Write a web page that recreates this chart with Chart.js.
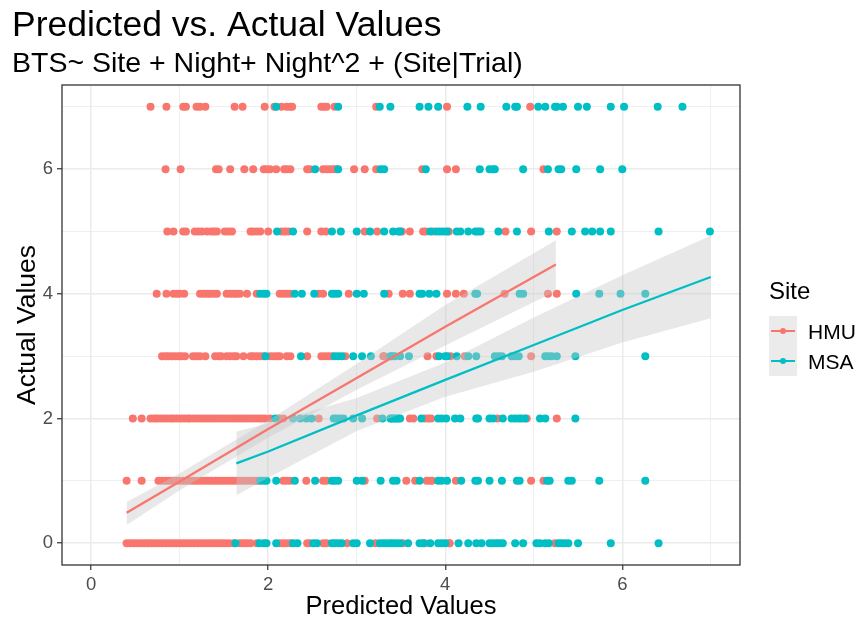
<!DOCTYPE html>
<html>
<head>
<meta charset="utf-8">
<script src="https://cdn.jsdelivr.net/npm/chart.js@4.4.1/dist/chart.umd.min.js"></script>
<style>
  html, body { margin: 0; padding: 0; background: #fff; }
  #wrap { width: 862px; height: 626px; }
</style>
</head>
<body>
<div id="wrap"><canvas id="fitChart" width="862" height="626"></canvas></div>
<script>
// Predicted x values, one array per actual value (row), per site
const hmu0 = [0.40,0.44,0.48,0.52,0.56,0.60,0.64,0.68,0.72,0.76,0.80,0.84,0.88,0.92,0.96,1.00,1.04,1.08,1.12,1.16,1.20,1.24,1.28,1.32,1.36,1.40,1.44,1.48,1.52,1.56,1.61,1.68,1.72,1.76,1.80,1.87,2.13,2.17,2.21,2.25,2.44,2.47,2.62,2.66,2.89,3.21,3.52,3.77,4.04,4.05,5.24];
const hmu1 = [0.40,0.57,0.76,0.80,0.84,0.88,0.92,0.96,1.00,1.04,1.08,1.12,1.16,1.20,1.24,1.28,1.32,1.36,1.40,1.44,1.48,1.52,1.56,1.60,1.64,1.68,1.72,1.76,1.80,1.84,1.87,2.17,2.21,2.25,2.43,2.62,2.66,3.09,3.56,3.66,3.79,3.83,3.85,4.12,4.97,5.11];
const hmu2 = [0.47,0.57,0.67,0.71,0.74,0.78,0.82,0.86,0.90,0.93,0.97,1.01,1.05,1.09,1.12,1.16,1.20,1.24,1.28,1.32,1.36,1.40,1.44,1.48,1.52,1.56,1.60,1.64,1.68,1.72,1.76,1.80,1.84,1.88,1.92,1.96,2.02,2.12,2.17,2.57,3.23,3.60,3.64,3.77,3.81,3.84,4.59,4.92,5.26];
const hmu3 = [0.80,0.84,0.87,0.91,0.95,0.99,1.02,1.06,1.15,1.19,1.23,1.29,1.40,1.44,1.47,1.53,1.57,1.61,1.64,1.72,1.80,1.83,1.87,1.91,1.95,2.02,2.06,2.10,2.13,2.21,2.25,2.44,2.60,2.64,2.68,2.72,2.87,3.30,3.31,3.80,3.90,4.06,4.22,4.97];
const hmu4 = [0.74,0.85,0.93,0.97,1.00,1.05,1.23,1.27,1.31,1.34,1.38,1.42,1.53,1.57,1.61,1.64,1.68,1.76,1.87,2.13,2.17,2.21,2.25,2.57,2.62,2.91,3.36,3.52,3.60,4.02,4.12,4.21,4.67,5.16,5.26];
const hmu5 = [0.86,0.93,1.04,1.07,1.17,1.21,1.25,1.31,1.36,1.39,1.42,1.51,1.55,1.59,1.80,1.83,1.87,1.91,2.00,2.15,2.19,2.23,2.44,2.60,2.65,3.09,3.23,3.51,3.60,3.75,3.78,3.86,4.04,4.68,4.97,5.26];
const hmu6 = [0.84,1.01,1.41,1.44,1.57,1.73,1.83,1.95,1.98,2.02,2.09,2.18,2.21,2.25,2.44,2.47,2.62,2.66,2.70,2.74,2.77,2.97,3.09,3.22,3.74,4.02,4.12,5.11];
const hmu7 = [0.67,0.85,1.04,1.07,1.19,1.23,1.29,1.62,1.71,1.96,2.07,2.15,2.21,2.25,2.27,2.60,2.63,2.66,2.75,3.22,4.02,4.96];

const msa0 = [1.63,1.90,1.95,1.98,2.09,2.28,2.33,2.51,2.55,2.72,2.75,2.79,2.83,2.96,3.00,3.15,3.26,3.30,3.34,3.38,3.41,3.45,3.49,3.58,3.71,3.75,3.83,3.92,3.96,4.00,4.15,4.26,4.35,4.41,4.50,4.54,4.58,4.61,4.65,4.79,4.88,5.03,5.07,5.13,5.17,5.28,5.31,5.35,5.39,5.50,5.87,6.41];
const msa1 = [1.91,1.95,1.98,2.09,2.30,2.53,2.72,2.75,2.79,3.00,3.06,3.27,3.41,3.45,3.71,3.92,3.96,4.02,4.18,4.34,4.37,4.50,4.64,4.81,4.84,5.15,5.18,5.39,5.43,5.74,6.26];
const msa2 = [2.08,2.28,2.36,2.43,2.49,2.74,2.77,2.81,2.85,2.96,3.06,3.29,3.38,3.41,3.45,3.49,3.39,3.43,3.47,3.73,3.92,3.96,4.01,4.11,4.17,4.35,4.37,4.50,4.54,4.65,4.75,4.79,4.83,4.86,4.90,5.07,5.13,5.47];
const msa3 = [1.97,2.37,2.75,2.79,2.83,2.96,3.06,3.16,3.38,3.40,3.43,3.49,3.59,3.93,4.00,4.02,4.13,4.26,4.35,4.56,4.60,4.64,4.75,4.79,4.83,5.13,5.16,5.20,5.26,5.47,6.26];
const msa4 = [1.91,1.95,1.98,2.30,2.38,2.52,2.72,2.75,2.79,3.00,3.08,3.31,3.71,3.74,3.82,3.90,4.34,4.36,4.84,4.88,5.48,5.74,5.98,6.26];
const msa5 = [2.10,2.28,2.72,2.82,3.00,3.15,3.31,3.41,3.47,3.49,3.83,3.90,3.94,3.98,4.02,4.13,4.17,4.26,4.34,4.37,4.40,4.60,4.81,5.17,5.43,5.58,5.66,5.75,5.87,6.41,6.99];
const msa6 = [2.53,2.79,3.27,3.31,3.78,4.39,4.50,4.54,4.56,4.88,5.16,5.28,5.31,5.48,5.75,6.00];
const msa7 = [2.09,2.79,3.26,3.38,3.71,3.81,3.92,4.25,4.40,4.69,4.79,4.81,5.05,5.13,5.24,5.26,5.33,5.50,5.60,5.87,6.02,6.40,6.68];

// fitted lines with confidence band
const hmuFitX = [0.40, 1.00, 2.00, 3.00, 4.00, 5.25];
const hmuFit  = [0.49, 0.99, 1.83, 2.65, 3.47, 4.47];
const hmuLo   = [0.29, 0.85, 1.69, 2.46, 3.17, 4.04];
const hmuHi   = [0.66, 1.12, 1.97, 2.88, 3.82, 4.86];

const msaFitX = [1.64, 2.00, 3.00, 4.00, 5.00, 6.00, 7.00];
const msaFit  = [1.28, 1.47, 2.05, 2.62, 3.18, 3.74, 4.27];
const msaLo   = [0.77, 1.05, 1.80, 2.35, 2.75, 3.22, 3.61];
const msaHi   = [1.79, 1.92, 2.33, 2.90, 3.62, 4.30, 4.93];

const siteNames = ['HMU', 'MSA'];
const siteColors = ['#F8766D', '#00BFC4'];
const tickValues = [0, 1, 2, 3, 4, 5, 6, 7];

const hmuRows = [hmu0, hmu1, hmu2, hmu3, hmu4, hmu5, hmu6, hmu7];
const msaRows = [msa0, msa1, msa2, msa3, msa4, msa5, msa6, msa7];

function rowsToPoints(rows) {
  const out = [];
  rows.forEach((xs, y) => xs.forEach(x => out.push({ x, y })));
  return out;
}
const pairUp = (xs, ys) => xs.map((x, i) => ({ x, y: ys[i] }));

const bandFill = 'rgba(200,200,200,0.42)';
const FONT = '"Liberation Sans", Arial, sans-serif';

const decor = {
  id: 'decor',
  afterDraw(chart) {
    const c = chart.ctx;
    const a = chart.chartArea;
    c.save();
    // panel border
    c.strokeStyle = '#333333';
    c.lineWidth = 1.3;
    c.strokeRect(a.left, a.top, a.right - a.left, a.bottom - a.top);

    c.fillStyle = '#000';
    c.textAlign = 'left';
    c.textBaseline = 'alphabetic';
    c.font = `35.5px ${FONT}`;
    c.fillText('Predicted vs. Actual Values', 12, 36);
    c.font = `28.5px ${FONT}`;
    c.fillText('BTS~ Site + Night+ Night^2 + (Site|Trial)', 12, 72);

    // axis titles
    c.font = `25.5px ${FONT}`;
    c.textAlign = 'center';
    c.textBaseline = 'middle';
    c.fillText('Predicted Values', (a.left + a.right) / 2, 607);
    c.save();
    c.font = `26.5px ${FONT}`;
    c.translate(28, (a.top + a.bottom) / 2);
    c.rotate(-Math.PI / 2);
    c.fillText('Actual Values', 0, 0);
    c.restore();

    // legend
    c.textAlign = 'left';
    c.textBaseline = 'alphabetic';
    c.font = `24px ${FONT}`;
    c.fillText('Site', 769, 299);
    c.fillStyle = '#ebebeb';
    c.fillRect(769, 316, 28, 60);
    c.font = `21px ${FONT}`;
    siteNames.forEach((name, i) => {
      const y = 331 + i * 30;
      c.strokeStyle = siteColors[i];
      c.lineWidth = 2;
      c.beginPath();
      c.moveTo(771, y);
      c.lineTo(795, y);
      c.stroke();
      c.fillStyle = siteColors[i];
      c.beginPath();
      c.arc(783, y, 3, 0, Math.PI * 2);
      c.fill();
      c.fillStyle = '#000';
      c.fillText(name, 808, y + 7.5);
    });
    c.restore();
  }
};

const gridOpts = {
  color: '#ebebeb',
  lineWidth: ctx => (ctx.tick && ctx.tick.value % 2 === 0 ? 1.5 : 0.8),
  drawTicks: true,
  tickLength: 5,
  tickWidth: 1.2,
  tickColor: ctx => (ctx.tick && ctx.tick.value % 2 === 0 ? '#333333' : 'rgba(0,0,0,0)'),
};
const tickOpts = {
  color: '#4d4d4d',
  font: { family: FONT, size: 18.5 },
  padding: 4,
  autoSkip: false,
  maxRotation: 0,
  callback: v => (v % 2 === 0 ? String(v) : ''),
};

new Chart(document.getElementById('fitChart'), {
  type: 'line',
  data: {
    datasets: [
      { label: 'HMU', data: rowsToPoints(hmuRows), showLine: false, pointRadius: 4, pointBorderWidth: 0,
        pointBackgroundColor: siteColors[0], order: 5 },
      { label: 'MSA', data: rowsToPoints(msaRows), showLine: false, pointRadius: 4, pointBorderWidth: 0,
        pointBackgroundColor: siteColors[1], order: 4 },
      { label: 'hmu lo', data: pairUp(hmuFitX, hmuLo), pointRadius: 0, borderWidth: 0, fill: false, order: 3 },
      { label: 'hmu hi', data: pairUp(hmuFitX, hmuHi), pointRadius: 0, borderWidth: 0, fill: 2,
        backgroundColor: bandFill, order: 3 },
      { label: 'msa lo', data: pairUp(msaFitX, msaLo), pointRadius: 0, borderWidth: 0, fill: false, order: 2 },
      { label: 'msa hi', data: pairUp(msaFitX, msaHi), pointRadius: 0, borderWidth: 0, fill: 4,
        backgroundColor: bandFill, order: 2 },
      { label: 'hmu fit', data: pairUp(hmuFitX, hmuFit), pointRadius: 0, borderWidth: 2.3,
        borderColor: siteColors[0], fill: false, order: 1 },
      { label: 'msa fit', data: pairUp(msaFitX, msaFit), pointRadius: 0, borderWidth: 2.3,
        borderColor: siteColors[1], fill: false, order: 0 },
    ],
  },
  options: {
    responsive: false,
    animation: false,
    events: [],
    layout: { padding: { left: 0, top: 85, right: 122, bottom: 0 } },
    plugins: { legend: { display: false }, tooltip: { enabled: false }, title: { display: false } },
    scales: {
      x: {
        type: 'linear', min: -0.33, max: 7.33,
        afterBuildTicks: s => { s.ticks = tickValues.map(v => ({ value: v })); },
        afterFit: s => { s.height = 61; },
        grid: gridOpts, ticks: tickOpts, border: { display: false },
      },
      y: {
        type: 'linear', min: -0.35, max: 7.35,
        afterBuildTicks: s => { s.ticks = tickValues.map(v => ({ value: v })); },
        afterFit: s => { s.width = 62; },
        grid: gridOpts, ticks: tickOpts, border: { display: false },
      },
    },
  },
  plugins: [decor],
});
</script>
</body>
</html>
